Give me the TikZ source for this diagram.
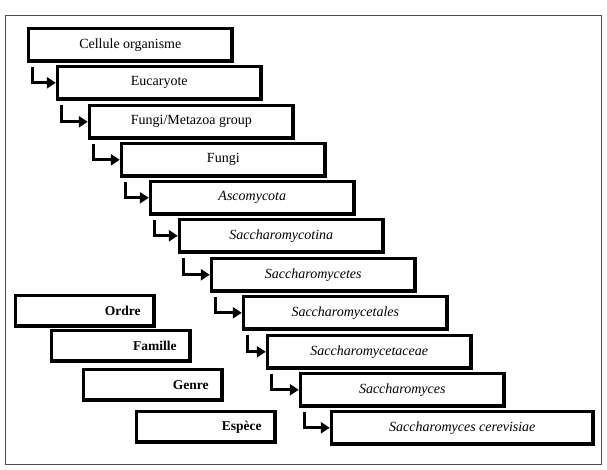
\documentclass[tikz,border=0pt]{standalone}
\usepackage{fontspec}
\setmainfont{Liberation Serif}
\usetikzlibrary{arrows.meta}
\begin{document}
\begin{tikzpicture}[x=1pt,y=-1pt,
  rbox/.style={draw, line width=3.6pt, minimum width=203.4pt, minimum height=32.4pt,
    anchor=north west, inner sep=2pt, font=\fontsize{14}{16}\selectfont},
  wbox/.style={rbox, minimum width=261.4pt},
  lbox/.style={draw, line width=3.6pt, text width=111.4pt, align=right,
    inner xsep=13.5pt, inner ysep=2pt, minimum height=30.4pt, anchor=north west,
    font=\fontsize{13.5}{15}\selectfont\bfseries},
  elbow/.style={line width=3pt, -{Triangle[length=9pt,width=11pt]}},
  frame/.style={draw=black!70, line width=1pt}]
\useasboundingbox (0,0) rectangle (607,470);
\draw[frame] (5,16) rectangle (601,464);

\node[rbox] (n1)  at (26.8,26.8)  {Cellule organisme};
\node[rbox] (n2)  at (55.8,64.8)  {Eucaryote};
\node[rbox] (n3)  at (87.8,103.8) {Fungi/Metazoa group};
\node[rbox] (n4)  at (119.8,141.8) {Fungi};
\node[rbox] (n5)  at (148.8,179.8) {\itshape Ascomycota};
\node[rbox] (n6)  at (177.8,217.8) {\itshape Saccharomycotina};
\node[rbox] (n7)  at (209.8,256.8) {\itshape Saccharomycetes};
\node[rbox] (n8)  at (241.8,294.8) {\itshape Saccharomycetales};
\node[rbox] (n9)  at (265.8,333.8) {\itshape Saccharomycetaceae};
\node[rbox] (n10) at (298.8,371.8) {\itshape Saccharomyces};
\node[wbox] (n11) at (329.8,409.8) {\itshape Saccharomyces cerevisiae};

\foreach \p/\c in {n1/n2,n2/n3,n3/n4,n4/n5,n5/n6,n6/n7,n7/n8,n8/n9,n9/n10,n10/n11}
  \draw[elbow] ([xshift=5.5pt,yshift=-4.5pt]\p.south west) |- (\c.west);

\node[lbox] (o1) at (13.8,293.8)  {Ordre};
\node[lbox] (o2) at (49.8,328.8)  {Famille};
\node[lbox] (o3) at (81.8,367.8)  {Genre};
\node[lbox] (o4) at (134.8,409.8) {Espèce};
\end{tikzpicture}
\end{document}
